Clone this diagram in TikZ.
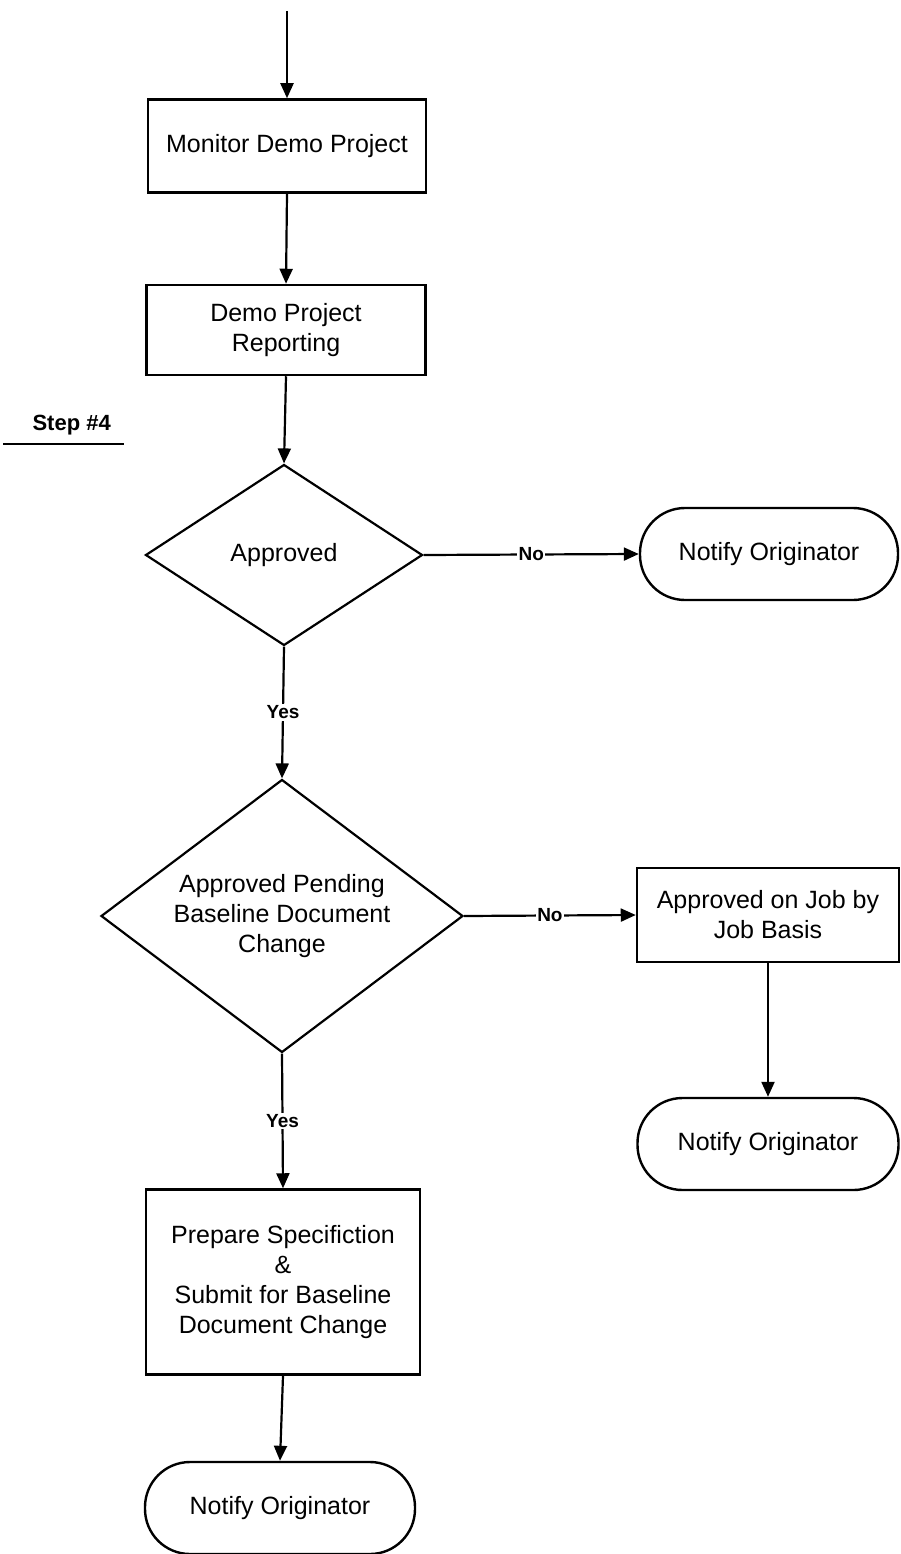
\documentclass[tikz,border=0pt]{standalone}
\usepackage{fontspec}
\setmainfont{Liberation Sans}
\usetikzlibrary{arrows.meta,shapes.geometric}
\tikzset{
  flow/.style={line width=2.2pt,-{Triangle[length=15pt,width=13pt]}},
  procbox/.style={draw,line width=2.5pt,align=center,inner sep=0pt,
    font=\fontsize{25}{30}\selectfont},
  decision/.style={draw,diamond,line width=2.2pt,align=center,inner sep=0pt,
    font=\fontsize{25}{30}\selectfont},
  terminal/.style={draw,line width=2.4pt,rounded corners=45pt,align=center,
    inner sep=0pt,minimum height=92pt,font=\fontsize{25}{30}\selectfont},
  branchlabel/.style={fill=white,inner sep=1.5pt,font=\bfseries\fontsize{19}{21}\selectfont},
}
\begin{document}
\begin{tikzpicture}[x=1pt,y=-1pt]
\useasboundingbox (0,0) rectangle (900,1554);

% main column
\coordinate (start) at (287,11);
\node[procbox,minimum width=278pt,minimum height=93pt] (monitor) at (287,146) {Monitor Demo Project};
\node[procbox,minimum width=279pt,minimum height=90pt] (report) at (286,330) {Demo Project\\Reporting};
\node[decision,minimum width=277pt,minimum height=181pt,aspect=1.53] (appr) at (284,555) {Approved};
\node[decision,minimum width=362pt,minimum height=273pt,aspect=1.33] (pend) at (282,916)
  {Approved Pending\\Baseline Document\\Change};
\node[procbox,minimum width=274pt,minimum height=185pt] (prep) at (283,1282)
  {Prepare Specifiction\\\&\\Submit for Baseline\\Document Change};
\node[terminal,minimum width=270pt] (notifyC) at (280,1508) {Notify Originator};

% right column
\node[terminal,minimum width=258pt] (notifyA) at (769,554) {Notify Originator};
\node[procbox,minimum width=262pt,minimum height=94pt] (jobbasis) at (768,915)
  {Approved on Job by\\Job Basis};
\node[terminal,minimum width=261pt] (notifyB) at (768,1144) {Notify Originator};

% step marker
\node[font=\bfseries\fontsize{22}{24}\selectfont,anchor=base west] (step) at (29,430) {Step \#4};
\draw[line width=2pt] (3,444) -- (124,444);

% connectors
\draw[flow] (start) -- (monitor.north);
\draw[flow] (monitor.south) -- (report.north);
\draw[flow] (report.south) -- (appr.north);
\draw[flow] (appr.east) -- node[branchlabel,pos=0.5] {No} (notifyA.west);
\draw[flow] (appr.south) -- node[branchlabel,pos=0.5] {Yes} (pend.north);
\draw[flow] (pend.east) -- node[branchlabel,pos=0.5] {No} (jobbasis.west);
\draw[flow] (pend.south) -- node[branchlabel,pos=0.5] {Yes} (prep.north);
\draw[flow] (jobbasis.south) -- (notifyB.north);
\draw[flow] (prep.south) -- (notifyC.north);
\end{tikzpicture}
\end{document}
